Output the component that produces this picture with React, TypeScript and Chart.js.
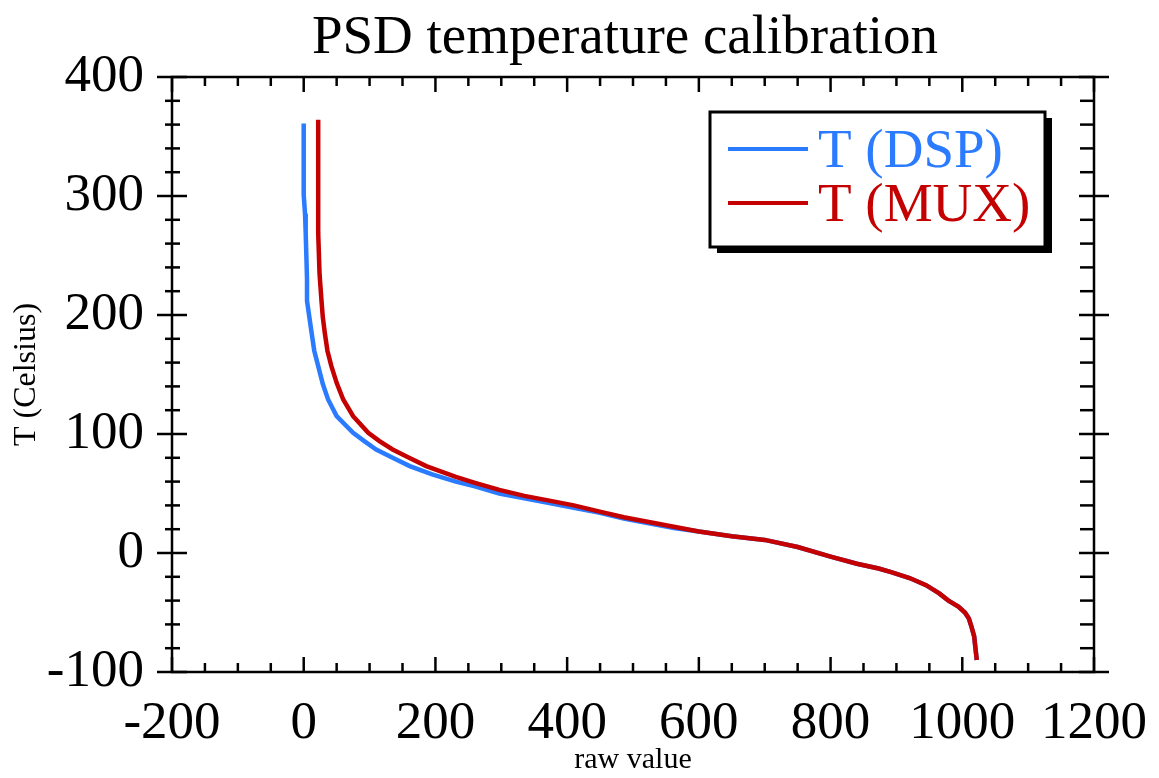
import React, { useEffect, useRef } from "react";
import { Chart, registerables } from "chart.js";

Chart.register(...registerables);

// ---- data ----
const chartTitle = "PSD temperature calibration";
const xAxisTitle = "raw value";
const yAxisTitle = "T (Celsius)";

const dspLabel = "T (DSP)";
const dspRaw = [0, 0, 0, 2, 3, 4, 5, 5, 12, 16, 22, 29, 37, 50, 75, 92, 110, 135, 161, 195, 231, 260, 297, 335, 373, 410, 448, 486, 524, 562, 600, 650, 700, 750, 800, 840, 873, 892, 920, 945, 965, 979, 994, 1004, 1010, 1014, 1018, 1020, 1022];
const dspTemp = [361, 330, 301, 285, 269, 250, 230, 212, 185, 170, 157, 142, 129, 115, 101, 94, 87, 80, 73, 66, 60, 56, 50, 46, 42, 38, 34, 29, 25, 21, 18, 14, 11, 5, -3, -9, -13, -16, -21, -27, -34, -40, -45, -50, -55, -62, -70, -80, -90];

const muxLabel = "T (MUX)";
const muxRaw = [22, 22, 22, 24, 27, 29, 32, 36, 42, 50, 60, 75, 98, 115, 135, 160, 186, 231, 260, 297, 335, 373, 410, 448, 486, 524, 562, 600, 650, 700, 750, 800, 840, 873, 892, 920, 945, 965, 979, 994, 1004, 1010, 1014, 1018, 1020, 1022];
const muxTemp = [364, 320, 269, 235, 212, 198, 185, 170, 157, 143, 129, 115, 101, 94, 87, 80, 73, 64, 59, 53, 48, 44, 40, 35, 30, 26, 22, 18, 14, 11, 5, -3, -9, -13, -16, -21, -27, -34, -40, -45, -50, -55, -62, -70, -80, -90];

const xMin = -200;
const xMax = 1200;
const xMajor = 200;
const xMinor = 50;
const yMin = -100;
const yMax = 400;
const yMajor = 100;
const yMinor = 20;

const dspColor = "#2a7bff";
const muxColor = "#c40000";
const FONT = "'Liberation Serif', 'Times New Roman', serif";

const toPoints = (xs: number[], ys: number[]) => xs.map((x, i) => ({ x, y: ys[i] }));

const titlePlugin = {
  id: "customTitle",
  afterDraw(chart: any) {
    const { ctx, chartArea: a } = chart;
    ctx.save();
    ctx.fillStyle = "#000";
    ctx.font = `55px ${FONT}`;
    ctx.textAlign = "center";
    ctx.textBaseline = "alphabetic";
    ctx.fillText(chartTitle, (a.left + a.right) / 2 - 8, 53);
    ctx.restore();
  },
};

const framePlugin = {
  id: "frameTicks",
  afterDatasetsDraw(chart: any) {
    const { ctx, chartArea: a, scales } = chart;
    const xs = scales.x;
    const ys = scales.y;
    ctx.save();
    ctx.strokeStyle = "#000";
    ctx.lineWidth = 2.5;
    ctx.lineCap = "butt";
    ctx.strokeRect(a.left, a.top, a.right - a.left, a.bottom - a.top);
    const seg = (x1: number, y1: number, x2: number, y2: number) => {
      ctx.beginPath();
      ctx.moveTo(x1, y1);
      ctx.lineTo(x2, y2);
      ctx.stroke();
    };
    for (let v = xMin; v <= xMax; v += xMinor) {
      const px = xs.getPixelForValue(v);
      const major = (v - xMin) % xMajor === 0;
      const len = major ? 15 : 9;
      seg(px, a.bottom, px, a.bottom - len);
      seg(px, a.top, px, a.top + len);
    }
    for (let v = yMin; v <= yMax; v += yMinor) {
      const py = ys.getPixelForValue(v);
      const major = (v - yMin) % yMajor === 0;
      if (major) {
        seg(a.left - 15, py, a.left + 15, py);
        seg(a.right - 15, py, a.right + 15, py);
      } else {
        seg(a.left - 7, py, a.left + 8, py);
        seg(a.right - 14, py, a.right, py);
      }
    }
    ctx.restore();
  },
};

const legendPlugin = {
  id: "boxLegend",
  afterDraw(chart: any) {
    const { ctx, chartArea: a } = chart;
    const left = a.right - 384;
    const top = a.top + 35;
    const w = 335;
    const h = 135;
    ctx.save();
    ctx.fillStyle = "#000";
    ctx.fillRect(left + 7, top + 6, w, h);
    ctx.fillStyle = "#fff";
    ctx.fillRect(left, top, w, h);
    ctx.strokeStyle = "#000";
    ctx.lineWidth = 3;
    ctx.strokeRect(left, top, w, h);
    ctx.font = `55px ${FONT}`;
    ctx.textAlign = "left";
    ctx.textBaseline = "alphabetic";
    chart.data.datasets.forEach((ds: any, i: number) => {
      const ly = top + 37 + i * 54;
      ctx.strokeStyle = ds.borderColor;
      ctx.lineWidth = 4;
      ctx.beginPath();
      ctx.moveTo(left + 18, ly);
      ctx.lineTo(left + 98, ly);
      ctx.stroke();
      ctx.fillStyle = ds.borderColor;
      ctx.fillText(ds.label, left + 108, ly + 18);
    });
    ctx.restore();
  },
};

export default function App() {
  const canvasRef = useRef<HTMLCanvasElement | null>(null);

  useEffect(() => {
    document.body.style.margin = "0";
    const canvas = canvasRef.current;
    if (!canvas) return;
    const chart = new Chart(canvas, {
      type: "scatter",
      data: {
        datasets: [
          {
            label: dspLabel,
            data: toPoints(dspRaw, dspTemp),
            showLine: true,
            borderColor: dspColor,
            backgroundColor: dspColor,
            borderWidth: 4.5,
            pointRadius: 0,
            tension: 0,
            order: 1,
          },
          {
            label: muxLabel,
            data: toPoints(muxRaw, muxTemp),
            showLine: true,
            borderColor: muxColor,
            backgroundColor: muxColor,
            borderWidth: 4.5,
            pointRadius: 0,
            tension: 0,
            order: 0,
          },
        ],
      },
      options: {
        animation: false,
        responsive: true,
        maintainAspectRatio: false,
        layout: { padding: { top: 77, right: 65, left: 0, bottom: 0 } },
        plugins: {
          legend: { display: false },
          title: { display: false },
          tooltip: { enabled: false },
        },
        scales: {
          x: {
            type: "linear",
            min: xMin,
            max: xMax,
            grid: { display: false },
            border: { display: false },
            ticks: {
              stepSize: xMajor,
              color: "#000",
              font: { family: FONT, size: 53 },
              padding: 12,
              maxRotation: 0,
              callback: (v: any) => String(v),
            },
            title: {
              display: true,
              text: xAxisTitle,
              color: "#000",
              font: { family: FONT, size: 30 },
              padding: 0,
            },
            afterFit: (s: any) => {
              s.height = 106;
            },
          },
          y: {
            type: "linear",
            min: yMin,
            max: yMax,
            grid: { display: false },
            border: { display: false },
            ticks: {
              stepSize: yMajor,
              color: "#000",
              font: { family: FONT, size: 53 },
              padding: 20,
              callback: (v: any) => String(v),
            },
            title: {
              display: true,
              text: yAxisTitle,
              color: "#000",
              font: { family: FONT, size: 32 },
              padding: 7,
            },
            afterFit: (s: any) => {
              s.width = 172;
            },
          },
        },
      },
      plugins: [framePlugin, legendPlugin, titlePlugin],
    });
    return () => chart.destroy();
  }, []);

  return (
    <div style={{ position: "fixed", left: 0, top: 0, width: 1159, height: 778, background: "#fff" }}>
      <canvas ref={canvasRef} />
    </div>
  );
}
